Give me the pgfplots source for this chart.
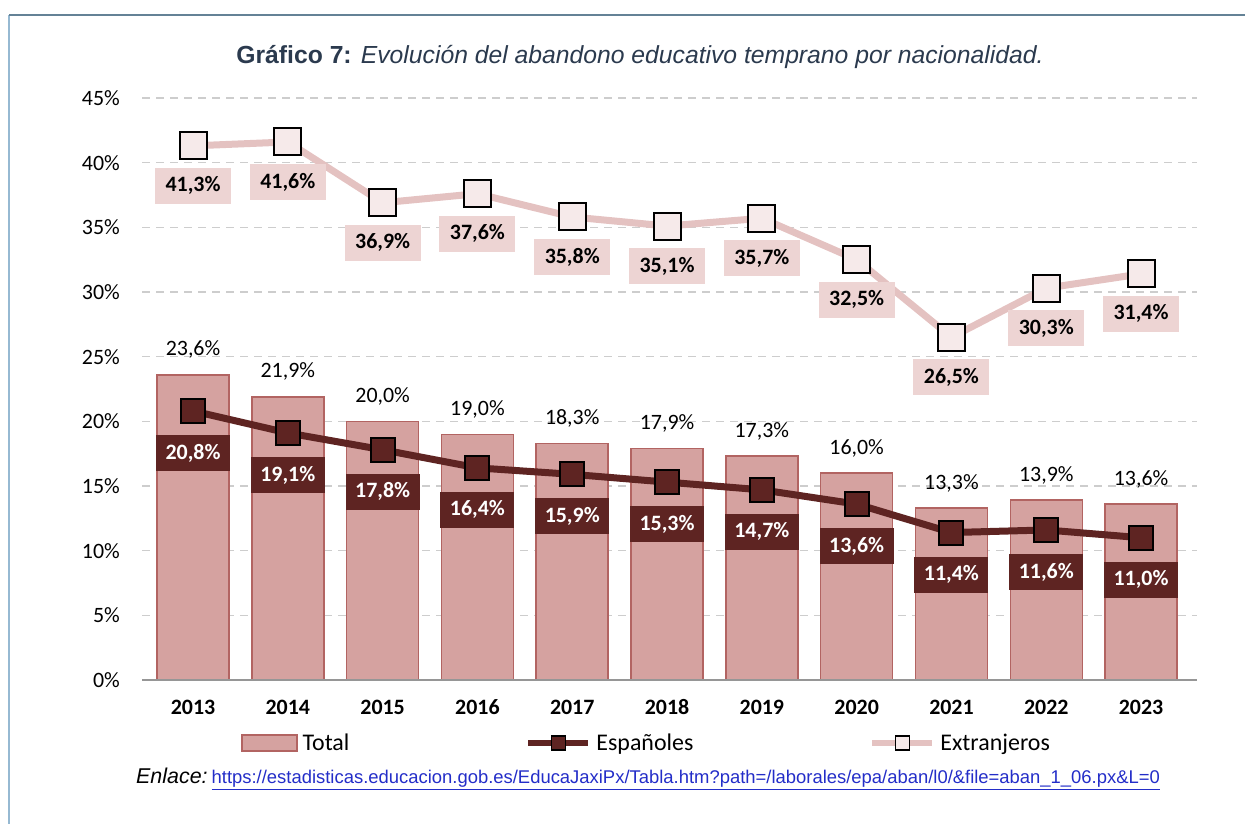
\documentclass[border=0pt]{standalone}
\usepackage{pgfplots}
\pgfplotsset{compat=1.18}
\usepackage{pgfplotstable}
\usepackage{fontspec}
\setmainfont{Carlito}
\newfontfamily\arial{Liberation Sans}
\definecolor{barfill}{RGB}{213,162,160}
\definecolor{baredge}{RGB}{178,100,98}
\definecolor{espc}{RGB}{94,36,34}
\definecolor{extc}{RGB}{228,194,193}
\definecolor{extfill}{RGB}{246,234,234}
\definecolor{extlab}{RGB}{237,212,211}
\definecolor{gridc}{RGB}{205,205,205}
\definecolor{basec}{RGB}{150,150,150}
\definecolor{titlec}{RGB}{43,58,78}
\definecolor{linkc}{RGB}{35,45,200}
\definecolor{frametop}{RGB}{100,130,150}
\definecolor{frameleft}{RGB}{150,185,210}

\pgfplotstableread{
x total esp ext
0 23.6 20.8 41.3
1 21.9 19.1 41.6
2 20.0 17.8 36.9
3 19.0 16.4 37.6
4 18.3 15.9 35.8
5 17.9 15.3 35.1
6 17.3 14.7 35.7
7 16.0 13.6 32.5
8 13.3 11.4 26.5
9 13.9 11.6 30.3
10 13.6 11.0 31.4
}\datatable

\newcommand{\pct}{\pgfmathprintnumber[fixed,fixed zerofill,precision=1,use comma]{\pgfplotspointmeta}\%}
\newcommand{\ul}[1]{\leavevmode\rlap{\rule[-2.2bp]{\widthof{#1}}{1.1bp}}#1}

\begin{document}
\begin{tikzpicture}[x=1bp,y=1bp]
\path[use as bounding box] (0,0) rectangle (1245,824);
\draw[frameleft, line width=1.5bp] (9,0) -- (9,809);
\draw[frametop, line width=1.2bp] (9,809) -- (1245,809);

\node[font=\arial\fontsize{24.8}{28}\selectfont, text=titlec, anchor=center] at (640,767)
  {{\bfseries Gráfico 7:} {\itshape Evolución del abandono educativo temprano por nacionalidad.}};

\node[font=\arial, anchor=base west, inner sep=0pt] at (136,40)
  {{\fontsize{21.5}{24}\selectfont\itshape Enlace:}\hspace{4bp}{\fontsize{18.5}{21}\selectfont\color{linkc}\underline{https://estadisticas.educacion.gob.es/EducaJaxiPx/Tabla.htm?path=/laborales/epa/aban/l0/\&file=aban\_1\_06.px\&L=0}}};

\begin{axis}[
  at={(142bp,144bp)}, anchor=south west,
  scale only axis, width=1055bp, height=582bp,
  xmin=-0.538, xmax=10.59, ymin=0, ymax=45,
  xtick={0,1,2,3,4,5,6,7,8,9,10},
  xticklabels={2013,2014,2015,2016,2017,2018,2019,2020,2021,2022,2023},
  ytick={0,5,10,15,20,25,30,35,40,45},
  yticklabel={\pgfmathprintnumber{\tick}\%},
  /pgf/number format/assume math mode=true,
  ymajorgrids,
  grid style={gridc, line width=1.5bp, dash pattern=on 8bp off 6bp},
  major tick length=0pt,
  axis line style={draw=none},
  yticklabel style={font=\fontsize{22}{26}\selectfont, inner sep=0pt, anchor=east, xshift=-22bp},
  xticklabel style={font=\fontsize{22}{26}\selectfont\bfseries, inner sep=0pt, anchor=base, yshift=-35bp},
  clip=false,
  point meta=y,
  legend columns=3,
  legend style={at={(0.0938,-0.1082)}, anchor=west, draw=none, fill=none, inner sep=0pt,
    font=\fontsize{24}{28}\selectfont,
    nodes={inner sep=0pt},
    /tikz/every odd column/.append style={column sep=5bp},
    /tikz/every even column/.append style={column sep=176bp}},
]
\addplot[ybar, bar width=72bp, fill=barfill, draw=baredge, line width=1.5bp,
  nodes near coords={\pct},
  every node near coord/.append style={font=\fontsize{22}{26}\selectfont, text=black, anchor=center, yshift=25bp},
  legend image code/.code={\draw[fill=barfill, draw=baredge, line width=1.5bp] (0bp,-8bp) rectangle (55bp,8bp);}]
  table[x=x, y=total] \datatable;
\addlegendentry{Total}

\addplot[color=espc, line width=7bp, mark=square*, mark size=12bp,
  mark options={fill=espc, draw=black, line width=2bp},
  nodes near coords={\pct},
  every node near coord/.append style={font=\fontsize{22}{26}\selectfont\bfseries, text=white, fill=espc,
     minimum width=74bp, minimum height=36bp, inner sep=0pt, anchor=center, yshift=-42bp},
  legend image code/.code={\draw[espc, line width=6bp] (0bp,0bp) -- (60bp,0bp);
     \draw[fill=espc, draw=black, line width=1.5bp] (23bp,-7bp) rectangle (37bp,7bp);}]
  table[x=x, y=esp] \datatable;
\addlegendentry{Españoles}

\addplot[color=extc, line width=7bp, mark=square*, mark size=13.5bp,
  mark options={fill=extfill, draw=black, line width=2bp},
  nodes near coords={\pct},
  every node near coord/.append style={font=\fontsize{22}{26}\selectfont\bfseries, text=black, fill=extlab,
     minimum width=76bp, minimum height=36bp, inner sep=0pt, anchor=center, yshift=-40bp},
  legend image code/.code={\draw[extc, line width=6bp] (0bp,0bp) -- (60bp,0bp);
     \draw[fill=extfill, draw=black, line width=1.5bp] (23bp,-7bp) rectangle (37bp,7bp);}]
  table[x=x, y=ext] \datatable;
\addlegendentry{Extranjeros}

\draw[basec, line width=1.5bp] (rel axis cs:0,0) -- (rel axis cs:1,0);
\end{axis}
\end{tikzpicture}
\end{document}
